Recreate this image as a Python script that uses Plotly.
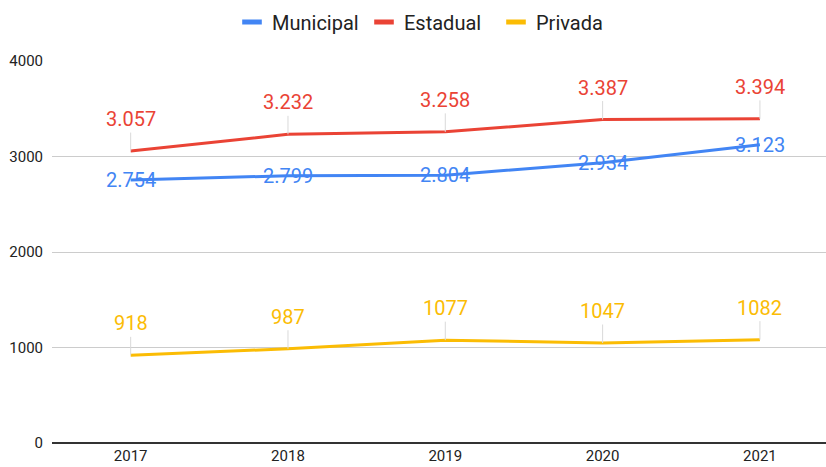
import plotly.graph_objects as go

years = ["2017", "2018", "2019", "2020", "2021"]
municipal = [2754, 2799, 2804, 2934, 3123]
estadual = [3057, 3232, 3258, 3387, 3394]
privada = [918, 987, 1077, 1047, 1082]
y_ticks = [0, 1000, 2000, 3000, 4000]

C_MUN = "#4285F4"
C_EST = "#EA4335"
C_PRI = "#FBBC04"
FONT = "Roboto"


def fmt_dot(v):
    return f"{v:,}".replace(",", ".")


fig = go.Figure()

series = [
    ("Municipal", municipal, C_MUN, [fmt_dot(v) for v in municipal], False),
    ("Estadual", estadual, C_EST, [fmt_dot(v) for v in estadual], True),
    ("Privada", privada, C_PRI, [str(v) for v in privada], True),
]

for name, vals, col, labels, above in series:
    fig.add_trace(go.Scatter(
        x=years, y=vals, mode="lines", name=name,
        line=dict(color=col, width=3), showlegend=False,
        hoverinfo="x+y",
    ))

# legend-only entries with short thick bars
for name, vals, col, labels, above in series:
    fig.add_trace(go.Scatter(
        x=[None], y=[None], mode="markers", name=name,
        marker=dict(symbol="line-ew", size=14, color=col,
                    line=dict(color=col, width=5)),
        showlegend=True,
    ))

annotations = []
for name, vals, col, labels, above in series:
    for i, (v, t) in enumerate(zip(vals, labels)):
        if above:
            annotations.append(dict(
                x=i, y=v, xref="x", yref="y", text=t,
                showarrow=True, arrowhead=0, arrowwidth=1,
                arrowcolor="#d9d9d9", ax=0, ay=-32, standoff=0,
                font=dict(family=FONT, size=20, color=col),
            ))
        else:
            annotations.append(dict(
                x=i, y=v, xref="x", yref="y", text=t,
                showarrow=False,
                font=dict(family=FONT, size=20, color=col),
            ))

fig.update_layout(
    width=826, height=467,
    margin=dict(l=52, r=0, t=61, b=24),
    paper_bgcolor="white", plot_bgcolor="white",
    font=dict(family=FONT, color="#444444"),
    annotations=annotations,
    legend=dict(
        orientation="h", xref="container", x=232 / 826, xanchor="left",
        yref="container", y=1 - 22 / 467, yanchor="middle",
        font=dict(family=FONT, size=20, color="#222222"),
        itemwidth=30, tracegroupgap=0, entrywidth=87,
    ),
    xaxis=dict(
        type="category", range=[-0.5, 4.42], automargin=False,
        showgrid=False, showline=False, zeroline=False,
        ticks="", ticklabelstandoff=2,
        tickfont=dict(family=FONT, size=15, color="#222222"),
    ),
    yaxis=dict(
        range=[0, 4000], tickvals=y_ticks, ticktext=[str(v) for v in y_ticks],
        automargin=False,
        showgrid=True, gridcolor="#cccccc", gridwidth=1,
        zeroline=True, zerolinecolor="#333333", zerolinewidth=1.5,
        showline=False, ticks="", ticklabelstandoff=8,
        tickfont=dict(family=FONT, size=15, color="#222222"),
    ),
)

fig.write_html(
    "out.html",
    config={"displayModeBar": False},
    post_script="document.body.style.margin='0';document.body.style.overflow='hidden';",
)
